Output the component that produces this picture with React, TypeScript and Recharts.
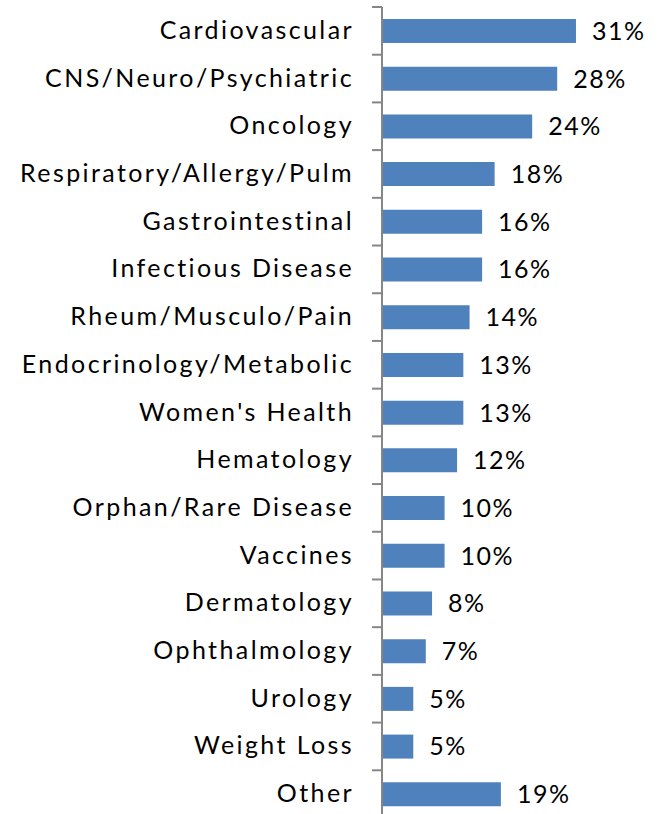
import { BarChart, Bar, XAxis, YAxis, LabelList } from "recharts";

const categories = [
  "Cardiovascular",
  "CNS/Neuro/Psychiatric",
  "Oncology",
  "Respiratory/Allergy/Pulm",
  "Gastrointestinal",
  "Infectious Disease",
  "Rheum/Musculo/Pain",
  "Endocrinology/Metabolic",
  "Women's Health",
  "Hematology",
  "Orphan/Rare Disease",
  "Vaccines",
  "Dermatology",
  "Ophthalmology",
  "Urology",
  "Weight Loss",
  "Other",
];
const shares = [31, 28, 24, 18, 16, 16, 14, 13, 13, 12, 10, 10, 8, 7, 5, 5, 19];

const data = categories.map((name, i) => ({ name, value: shares[i] }));

const W = 664;
const H = 818;
const TOP = 7;
const half = (H - TOP) / categories.length / 2;
const font = "Lato, 'Open Sans', sans-serif";

const CategoryTick = (props: any) => {
  const { x, y, payload, index } = props;
  const ax = x + 30;
  return (
    <g>
      <text
        x={x + 2}
        y={y}
        dy={8}
        textAnchor="end"
        fontSize={25}
        letterSpacing={2.4}
        fontFamily={font}
        fill="#000"
      >
        {payload.value}
      </text>
      <line x1={ax - 10} x2={ax} y1={y - half} y2={y - half} stroke="#868686" strokeWidth={2} />
      {index === categories.length - 1 && (
        <line x1={ax - 10} x2={ax} y1={y + half} y2={y + half} stroke="#868686" strokeWidth={2} />
      )}
    </g>
  );
};

export default function App() {
  return (
    <div style={{ position: "absolute", top: 0, left: 0, width: W, height: 814, overflow: "hidden", background: "#fff" }}>
      <BarChart
        width={W}
        height={H}
        data={data}
        layout="vertical"
        margin={{ top: TOP, right: 63, bottom: 0, left: 0 }}
        barSize={24}
      >
        <XAxis type="number" domain={[0, 35]} hide />
        <YAxis
          type="category"
          dataKey="name"
          width={382}
          tickLine={false}
          tickSize={0}
          tickMargin={30}
          axisLine={{ stroke: "#868686", strokeWidth: 2 }}
          tick={<CategoryTick />}
          interval={0}
        />
        <Bar dataKey="value" fill="#4F81BD" isAnimationActive={false}>
          <LabelList
            dataKey="value"
            position="right"
            offset={16}
            formatter={(v: any) => `${v}%`}
            style={{ fontSize: 25, letterSpacing: 1.5, fontFamily: font, fill: "#000" }}
          />
        </Bar>
      </BarChart>
    </div>
  );
}
